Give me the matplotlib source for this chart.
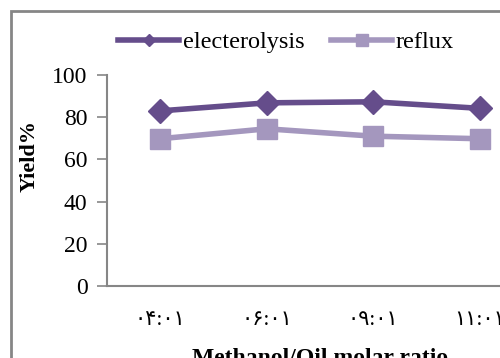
import matplotlib
matplotlib.use('Agg')
import matplotlib.pyplot as plt
from matplotlib.patches import Rectangle

ratios = ['۰۴:۰۱', '۰۶:۰۱', '۰۹:۰۱', '۱۱:۰۱']
electrolysis = [83, 86.8, 87.3, 84.2]
reflux = [69.8, 74.5, 71.0, 69.8]

purple_dark = '#654d8b'
purple_light = '#a497be'
gray = '#868686'

plt.rcParams['font.family'] = ['Liberation Serif', 'DejaVu Sans']

fig = plt.figure(figsize=(5, 3.58), dpi=100)
# outer chart border, cut off on the right and bottom
fig.patches.append(Rectangle((11/500, -0.1), 1.2, 1.1 - 11/358, transform=fig.transFigure,
                             fill=False, edgecolor=gray, linewidth=2.0))

ax = fig.add_axes([107/500, 1 - 286/358, 426/500, 211/358])
x = range(len(ratios))
ax.plot(x, electrolysis, color=purple_dark, lw=4, marker='D', ms=12,
        label='electerolysis', clip_on=False, zorder=3)
ax.plot(x, reflux, color=purple_light, lw=4, marker='s', ms=15,
        label='reflux', clip_on=False, zorder=3)

ax.set_xlim(-0.5, 3.5)
ax.set_ylim(0, 100)
ax.set_yticks(range(0, 101, 20))
ax.set_xticks(list(x))
ax.set_xticklabels(ratios, family=['Liberation Serif', 'DejaVu Sans'], fontsize=15)
ax.tick_params(axis='x', length=0, pad=18)
ax.tick_params(axis='y', length=7, width=1.2, color=gray, labelsize=17, pad=7)
for s in ['top', 'right']:
    ax.spines[s].set_visible(False)
for s in ['left', 'bottom']:
    ax.spines[s].set_color(gray)
    ax.spines[s].set_linewidth(1.5)

fig.text(30/500, 1 - 156/358, 'Yield%', rotation=90, ha='center', va='center',
         fontsize=16, fontweight='bold')
ax.set_xlabel('Methanol/Oil molar ratio', fontsize=17, fontweight='bold', labelpad=13)

fig.legend(loc='center', bbox_to_anchor=(286/500, 1 - 42/358), ncol=2, frameon=False,
           fontsize=17.5, handlelength=2.5, handletextpad=0.15, columnspacing=1.1,
           markerscale=0.55)

fig.savefig('out.png', dpi=100)
